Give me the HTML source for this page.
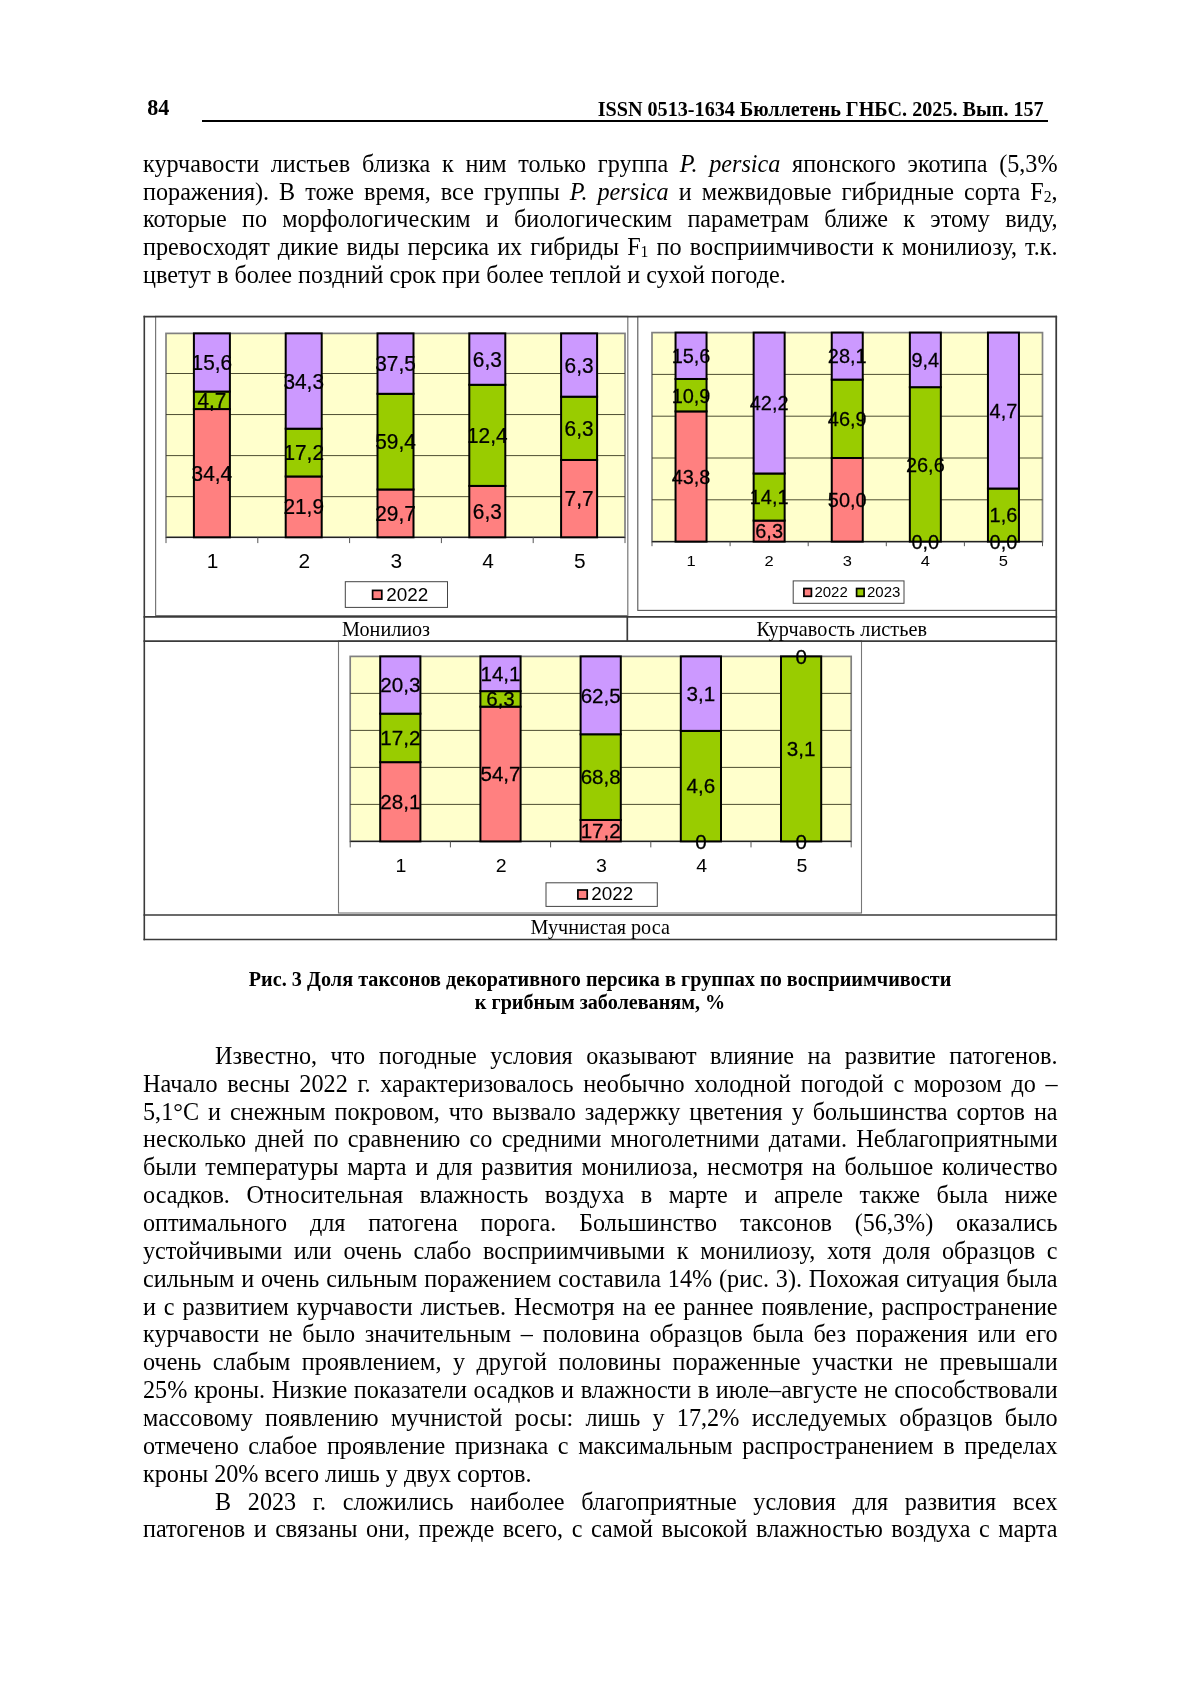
<!DOCTYPE html>
<html lang="ru"><head><meta charset="utf-8"><title>Бюллетень ГНБС. 2025. Вып. 157</title>
<style>
html,body{margin:0;padding:0;background:#fff;}
body{will-change:transform;width:1200px;height:1698px;position:relative;overflow:hidden;font-family:"Liberation Serif","Times New Roman",serif;color:#000;}
.l{position:absolute;white-space:nowrap;overflow:visible;}
.j{text-align:justify;text-align-last:justify;white-space:normal;}
.b{font-weight:bold;}
.c{text-align:center;}
sub{font-size:65%;vertical-align:baseline;position:relative;top:0.14em;line-height:0;}
svg{position:absolute;left:0;top:0;}
svg text{font-family:"Liberation Sans",Arial,sans-serif;fill:#000;}
svg text.d{stroke:#000;stroke-width:0.25px;}
svg text.s{font-family:"Liberation Serif","Times New Roman",serif;}
</style></head><body>
<div class="l b" style="top:95.84px;left:147.30px;width:252.70px;font-size:22.1px;line-height:24px;height:24px;">84</div>
<div class="l b" style="top:97.20px;left:597.70px;width:602.30px;font-size:20.16px;line-height:24px;height:24px;">ISSN 0513-1634 Бюллетень ГНБС. 2025. Вып. 157</div>
<div style="position:absolute;left:201.7px;top:120.0px;width:846.8px;height:1.7px;background:#000"></div>
<div class="l j" style="top:149.84px;left:143.00px;width:914.60px;font-size:24.19px;line-height:27.8px;height:27.8px;">курчавости листьев близка к ним только группа <i>P. persica</i> японского экотипа (5,3%</div>
<div class="l j" style="top:177.64px;left:143.00px;width:914.60px;font-size:24.19px;line-height:27.8px;height:27.8px;">поражения). В тоже время, все группы <i>P. persica</i> и межвидовые гибридные сорта F<sub>2</sub>,</div>
<div class="l j" style="top:205.44px;left:143.00px;width:914.60px;font-size:24.19px;line-height:27.8px;height:27.8px;">которые по морфологическим и биологическим параметрам ближе к этому виду,</div>
<div class="l j" style="top:233.24px;left:143.00px;width:914.60px;font-size:24.19px;line-height:27.8px;height:27.8px;">превосходят дикие виды персика их гибриды F<sub>1</sub> по восприимчивости к монилиозу, т.к.</div>
<div class="l" style="top:261.04px;left:143.00px;width:914.60px;font-size:24.19px;line-height:27.8px;height:27.8px;">цветут в более поздний срок при более теплой и сухой погоде.</div>
<div class="l b c" style="top:967.70px;left:200.00px;width:800.00px;font-size:20.16px;line-height:23.4px;height:23.4px;letter-spacing:0.045px;">Рис. 3 Доля таксонов декоративного персика в группах по восприимчивости</div>
<div class="l b c" style="top:991.00px;left:200.00px;width:800.00px;font-size:20.16px;line-height:23.4px;height:23.4px;">к грибным заболеваням, %</div>
<div class="l j" style="top:1041.84px;left:215.00px;width:842.60px;font-size:24.19px;line-height:27.8px;height:27.8px;">Известно, что погодные условия оказывают влияние на развитие патогенов.</div>
<div class="l j" style="top:1069.70px;left:143.00px;width:914.60px;font-size:24.19px;line-height:27.8px;height:27.8px;">Начало весны 2022 г. характеризовалось необычно холодной погодой с морозом до –</div>
<div class="l j" style="top:1097.56px;left:143.00px;width:914.60px;font-size:24.19px;line-height:27.8px;height:27.8px;">5,1°С и снежным покровом, что вызвало задержку цветения у большинства сортов на</div>
<div class="l j" style="top:1125.42px;left:143.00px;width:914.60px;font-size:24.19px;line-height:27.8px;height:27.8px;">несколько дней по сравнению со средними многолетними датами. Неблагоприятными</div>
<div class="l j" style="top:1153.28px;left:143.00px;width:914.60px;font-size:24.19px;line-height:27.8px;height:27.8px;">были температуры марта и для развития монилиоза, несмотря на большое количество</div>
<div class="l j" style="top:1181.14px;left:143.00px;width:914.60px;font-size:24.19px;line-height:27.8px;height:27.8px;">осадков. Относительная влажность воздуха в марте и апреле также была ниже</div>
<div class="l j" style="top:1209.00px;left:143.00px;width:914.60px;font-size:24.19px;line-height:27.8px;height:27.8px;">оптимального для патогена порога. Большинство таксонов (56,3%) оказались</div>
<div class="l j" style="top:1236.86px;left:143.00px;width:914.60px;font-size:24.19px;line-height:27.8px;height:27.8px;">устойчивыми или очень слабо восприимчивыми к монилиозу, хотя доля образцов с</div>
<div class="l j" style="top:1264.72px;left:143.00px;width:914.60px;font-size:24.19px;line-height:27.8px;height:27.8px;">сильным и очень сильным поражением составила 14% (рис. 3). Похожая ситуация была</div>
<div class="l j" style="top:1292.58px;left:143.00px;width:914.60px;font-size:24.19px;line-height:27.8px;height:27.8px;">и с развитием курчавости листьев. Несмотря на ее раннее появление, распространение</div>
<div class="l j" style="top:1320.44px;left:143.00px;width:914.60px;font-size:24.19px;line-height:27.8px;height:27.8px;">курчавости не было значительным – половина образцов была без поражения или его</div>
<div class="l j" style="top:1348.30px;left:143.00px;width:914.60px;font-size:24.19px;line-height:27.8px;height:27.8px;">очень слабым проявлением, у другой половины пораженные участки не превышали</div>
<div class="l j" style="top:1376.16px;left:143.00px;width:914.60px;font-size:24.19px;line-height:27.8px;height:27.8px;">25% кроны. Низкие показатели осадков и влажности в июле–августе не способствовали</div>
<div class="l j" style="top:1404.02px;left:143.00px;width:914.60px;font-size:24.19px;line-height:27.8px;height:27.8px;">массовому появлению мучнистой росы: лишь у 17,2% исследуемых образцов было</div>
<div class="l j" style="top:1431.88px;left:143.00px;width:914.60px;font-size:24.19px;line-height:27.8px;height:27.8px;">отмечено слабое проявление признака с максимальным распространением в пределах</div>
<div class="l" style="top:1459.74px;left:143.00px;width:914.60px;font-size:24.19px;line-height:27.8px;height:27.8px;">кроны 20% всего лишь у двух сортов.</div>
<div class="l j" style="top:1487.60px;left:215.00px;width:842.60px;font-size:24.19px;line-height:27.8px;height:27.8px;">В 2023 г. сложились наиболее благоприятные условия для развития всех</div>
<div class="l j" style="top:1515.46px;left:143.00px;width:914.60px;font-size:24.19px;line-height:27.8px;height:27.8px;">патогенов и связаны они, прежде всего, с самой высокой влажностью воздуха с марта</div>
<svg width="1200" height="1698" viewBox="0 0 1200 1698">
<rect x="155.6" y="316.4" width="472.2" height="299.2" fill="none" stroke="#777" stroke-width="1.2"/>
<rect x="637.8" y="316.4" width="418.4" height="294" fill="none" stroke="#555" stroke-width="1.1"/>
<rect x="338.5" y="641" width="523" height="272" fill="none" stroke="#777" stroke-width="1.1"/>
<rect x="166" y="333.4" width="459" height="203.9" fill="#ffffcc" stroke="#808080" stroke-width="1.7"/>
<line x1="166" y1="373.50" x2="625" y2="373.50" stroke="#3a3a20" stroke-width="0.9"/>
<line x1="166" y1="414.55" x2="625" y2="414.55" stroke="#3a3a20" stroke-width="0.9"/>
<line x1="166" y1="455.60" x2="625" y2="455.60" stroke="#3a3a20" stroke-width="0.9"/>
<line x1="166" y1="496.65" x2="625" y2="496.65" stroke="#3a3a20" stroke-width="0.9"/>
<line x1="166" y1="537.3" x2="625" y2="537.3" stroke="#222" stroke-width="1.2"/>
<line x1="166.00" y1="537.3" x2="166.00" y2="543.0999999999999" stroke="#555" stroke-width="1"/>
<line x1="257.80" y1="537.3" x2="257.80" y2="543.0999999999999" stroke="#555" stroke-width="1"/>
<line x1="349.60" y1="537.3" x2="349.60" y2="543.0999999999999" stroke="#555" stroke-width="1"/>
<line x1="441.40" y1="537.3" x2="441.40" y2="543.0999999999999" stroke="#555" stroke-width="1"/>
<line x1="533.20" y1="537.3" x2="533.20" y2="543.0999999999999" stroke="#555" stroke-width="1"/>
<line x1="625.00" y1="537.3" x2="625.00" y2="543.0999999999999" stroke="#555" stroke-width="1"/>
<rect x="193.90" y="409.07" width="36.00" height="128.23" fill="#ff8080" stroke="#000" stroke-width="2.0"/>
<rect x="193.90" y="391.55" width="36.00" height="17.52" fill="#99cc00" stroke="#000" stroke-width="2.0"/>
<rect x="193.90" y="333.40" width="36.00" height="58.15" fill="#cc99ff" stroke="#000" stroke-width="2.0"/>
<text transform="translate(212.60,567.6) scale(1.0,1)" text-anchor="middle" font-size="20.9">1</text>
<rect x="285.70" y="476.46" width="36.00" height="60.84" fill="#ff8080" stroke="#000" stroke-width="2.0"/>
<rect x="285.70" y="428.68" width="36.00" height="47.78" fill="#99cc00" stroke="#000" stroke-width="2.0"/>
<rect x="285.70" y="333.40" width="36.00" height="95.28" fill="#cc99ff" stroke="#000" stroke-width="2.0"/>
<text transform="translate(304.40,567.6) scale(1.0,1)" text-anchor="middle" font-size="20.9">2</text>
<rect x="377.50" y="489.47" width="36.00" height="47.83" fill="#ff8080" stroke="#000" stroke-width="2.0"/>
<rect x="377.50" y="393.80" width="36.00" height="95.67" fill="#99cc00" stroke="#000" stroke-width="2.0"/>
<rect x="377.50" y="333.40" width="36.00" height="60.40" fill="#cc99ff" stroke="#000" stroke-width="2.0"/>
<text transform="translate(396.20,567.6) scale(1.0,1)" text-anchor="middle" font-size="20.9">3</text>
<rect x="469.30" y="485.92" width="36.00" height="51.38" fill="#ff8080" stroke="#000" stroke-width="2.0"/>
<rect x="469.30" y="384.78" width="36.00" height="101.13" fill="#99cc00" stroke="#000" stroke-width="2.0"/>
<rect x="469.30" y="333.40" width="36.00" height="51.38" fill="#cc99ff" stroke="#000" stroke-width="2.0"/>
<text transform="translate(488.00,567.6) scale(1.0,1)" text-anchor="middle" font-size="20.9">4</text>
<rect x="561.10" y="459.96" width="36.00" height="77.34" fill="#ff8080" stroke="#000" stroke-width="2.0"/>
<rect x="561.10" y="396.68" width="36.00" height="63.28" fill="#99cc00" stroke="#000" stroke-width="2.0"/>
<rect x="561.10" y="333.40" width="36.00" height="63.28" fill="#cc99ff" stroke="#000" stroke-width="2.0"/>
<text transform="translate(579.80,567.6) scale(1.0,1)" text-anchor="middle" font-size="20.9">5</text>
<text transform="translate(211.90,480.68) scale(0.965,1)" class="d" text-anchor="middle" font-size="21.6">34,4</text>
<text transform="translate(211.90,407.81) scale(0.965,1)" class="d" text-anchor="middle" font-size="21.6">4,7</text>
<text transform="translate(211.90,369.97) scale(0.965,1)" class="d" text-anchor="middle" font-size="21.6">15,6</text>
<text transform="translate(303.70,514.38) scale(0.965,1)" class="d" text-anchor="middle" font-size="21.6">21,9</text>
<text transform="translate(303.70,460.07) scale(0.965,1)" class="d" text-anchor="middle" font-size="21.6">17,2</text>
<text transform="translate(303.70,388.54) scale(0.965,1)" class="d" text-anchor="middle" font-size="21.6">34,3</text>
<text transform="translate(395.50,520.88) scale(0.965,1)" class="d" text-anchor="middle" font-size="21.6">29,7</text>
<text transform="translate(395.50,449.13) scale(0.965,1)" class="d" text-anchor="middle" font-size="21.6">59,4</text>
<text transform="translate(395.50,371.09) scale(0.965,1)" class="d" text-anchor="middle" font-size="21.6">37,5</text>
<text transform="translate(487.30,519.10) scale(0.965,1)" class="d" text-anchor="middle" font-size="21.6">6,3</text>
<text transform="translate(487.30,442.85) scale(0.965,1)" class="d" text-anchor="middle" font-size="21.6">12,4</text>
<text transform="translate(487.30,366.59) scale(0.965,1)" class="d" text-anchor="middle" font-size="21.6">6,3</text>
<text transform="translate(579.10,506.12) scale(0.965,1)" class="d" text-anchor="middle" font-size="21.6">7,7</text>
<text transform="translate(579.10,435.81) scale(0.965,1)" class="d" text-anchor="middle" font-size="21.6">6,3</text>
<text transform="translate(579.10,372.53) scale(0.965,1)" class="d" text-anchor="middle" font-size="21.6">6,3</text>
<rect x="345.3" y="581.7" width="102.20" height="25.70" fill="#fff" stroke="#444" stroke-width="1"/>
<rect x="372.6" y="590.4" width="9.20" height="8.70" fill="#ff8080" stroke="#000" stroke-width="1.7"/>
<text transform="translate(386.2,600.7) scale(1.045,1)" font-size="18.1">2022</text>
<rect x="652" y="332.6" width="390.5" height="209.0" fill="#ffffcc" stroke="#808080" stroke-width="1.7"/>
<line x1="652" y1="374.40" x2="1042.5" y2="374.40" stroke="#3a3a20" stroke-width="0.9"/>
<line x1="652" y1="416.20" x2="1042.5" y2="416.20" stroke="#3a3a20" stroke-width="0.9"/>
<line x1="652" y1="458.00" x2="1042.5" y2="458.00" stroke="#3a3a20" stroke-width="0.9"/>
<line x1="652" y1="499.80" x2="1042.5" y2="499.80" stroke="#3a3a20" stroke-width="0.9"/>
<line x1="652" y1="541.6" x2="1042.5" y2="541.6" stroke="#222" stroke-width="1.2"/>
<line x1="652.00" y1="541.6" x2="652.00" y2="546.2" stroke="#555" stroke-width="1"/>
<line x1="730.10" y1="541.6" x2="730.10" y2="546.2" stroke="#555" stroke-width="1"/>
<line x1="808.20" y1="541.6" x2="808.20" y2="546.2" stroke="#555" stroke-width="1"/>
<line x1="886.30" y1="541.6" x2="886.30" y2="546.2" stroke="#555" stroke-width="1"/>
<line x1="964.40" y1="541.6" x2="964.40" y2="546.2" stroke="#555" stroke-width="1"/>
<line x1="1042.50" y1="541.6" x2="1042.50" y2="546.2" stroke="#555" stroke-width="1"/>
<rect x="675.55" y="411.38" width="31.00" height="130.22" fill="#ff8080" stroke="#000" stroke-width="2.0"/>
<rect x="675.55" y="378.98" width="31.00" height="32.41" fill="#99cc00" stroke="#000" stroke-width="2.0"/>
<rect x="675.55" y="332.60" width="31.00" height="46.38" fill="#cc99ff" stroke="#000" stroke-width="2.0"/>
<text transform="translate(691.05,566.4) scale(1.1,1)" text-anchor="middle" font-size="15.0">1</text>
<rect x="753.65" y="520.57" width="31.00" height="21.03" fill="#ff8080" stroke="#000" stroke-width="2.0"/>
<rect x="753.65" y="473.49" width="31.00" height="47.08" fill="#99cc00" stroke="#000" stroke-width="2.0"/>
<rect x="753.65" y="332.60" width="31.00" height="140.89" fill="#cc99ff" stroke="#000" stroke-width="2.0"/>
<text transform="translate(769.15,566.4) scale(1.1,1)" text-anchor="middle" font-size="15.0">2</text>
<rect x="831.75" y="458.00" width="31.00" height="83.60" fill="#ff8080" stroke="#000" stroke-width="2.0"/>
<rect x="831.75" y="379.58" width="31.00" height="78.42" fill="#99cc00" stroke="#000" stroke-width="2.0"/>
<rect x="831.75" y="332.60" width="31.00" height="46.98" fill="#cc99ff" stroke="#000" stroke-width="2.0"/>
<text transform="translate(847.25,566.4) scale(1.1,1)" text-anchor="middle" font-size="15.0">3</text>
<rect x="909.85" y="387.17" width="31.00" height="154.43" fill="#99cc00" stroke="#000" stroke-width="2.0"/>
<rect x="909.85" y="332.60" width="31.00" height="54.57" fill="#cc99ff" stroke="#000" stroke-width="2.0"/>
<text transform="translate(925.35,566.4) scale(1.1,1)" text-anchor="middle" font-size="15.0">4</text>
<rect x="987.95" y="488.52" width="31.00" height="53.08" fill="#99cc00" stroke="#000" stroke-width="2.0"/>
<rect x="987.95" y="332.60" width="31.00" height="155.92" fill="#cc99ff" stroke="#000" stroke-width="2.0"/>
<text transform="translate(1003.45,566.4) scale(1.1,1)" text-anchor="middle" font-size="15.0">5</text>
<text transform="translate(691.05,483.88) scale(0.95,1)" class="d" text-anchor="middle" font-size="21.0">43,8</text>
<text transform="translate(691.05,402.57) scale(0.95,1)" class="d" text-anchor="middle" font-size="21.0">10,9</text>
<text transform="translate(691.05,363.18) scale(0.95,1)" class="d" text-anchor="middle" font-size="21.0">15,6</text>
<text transform="translate(769.15,538.48) scale(0.95,1)" class="d" text-anchor="middle" font-size="21.0">6,3</text>
<text transform="translate(769.15,504.42) scale(0.95,1)" class="d" text-anchor="middle" font-size="21.0">14,1</text>
<text transform="translate(769.15,410.44) scale(0.95,1)" class="d" text-anchor="middle" font-size="21.0">42,2</text>
<text transform="translate(847.25,507.19) scale(0.95,1)" class="d" text-anchor="middle" font-size="21.0">50,0</text>
<text transform="translate(847.25,426.18) scale(0.95,1)" class="d" text-anchor="middle" font-size="21.0">46,9</text>
<text transform="translate(847.25,363.48) scale(0.95,1)" class="d" text-anchor="middle" font-size="21.0">28,1</text>
<text transform="translate(925.35,548.99) scale(0.95,1)" class="d" text-anchor="middle" font-size="21.0">0,0</text>
<text transform="translate(925.35,471.78) scale(0.95,1)" class="d" text-anchor="middle" font-size="21.0">26,6</text>
<text transform="translate(925.35,367.28) scale(0.95,1)" class="d" text-anchor="middle" font-size="21.0">9,4</text>
<text transform="translate(1003.45,548.99) scale(0.95,1)" class="d" text-anchor="middle" font-size="21.0">0,0</text>
<text transform="translate(1003.45,522.45) scale(0.95,1)" class="d" text-anchor="middle" font-size="21.0">1,6</text>
<text transform="translate(1003.45,417.95) scale(0.95,1)" class="d" text-anchor="middle" font-size="21.0">4,7</text>
<rect x="793.2" y="580.9" width="110.80" height="22.40" fill="#fff" stroke="#444" stroke-width="1"/>
<rect x="803.9" y="588.5" width="7.50" height="7.80" fill="#ff8080" stroke="#000" stroke-width="1.7"/>
<text transform="translate(814.4,597.3) scale(1.0,1)" font-size="15.0">2022</text>
<rect x="856.6" y="588.5" width="7.50" height="7.80" fill="#99cc00" stroke="#000" stroke-width="1.7"/>
<text transform="translate(867.0,597.3) scale(1.0,1)" font-size="15.0">2023</text>
<rect x="350.2" y="656.4" width="501" height="185.0" fill="#ffffcc" stroke="#808080" stroke-width="1.7"/>
<line x1="350.2" y1="693.40" x2="851.2" y2="693.40" stroke="#3a3a20" stroke-width="0.9"/>
<line x1="350.2" y1="730.40" x2="851.2" y2="730.40" stroke="#3a3a20" stroke-width="0.9"/>
<line x1="350.2" y1="767.40" x2="851.2" y2="767.40" stroke="#3a3a20" stroke-width="0.9"/>
<line x1="350.2" y1="804.40" x2="851.2" y2="804.40" stroke="#3a3a20" stroke-width="0.9"/>
<line x1="350.2" y1="841.4" x2="851.2" y2="841.4" stroke="#222" stroke-width="1.2"/>
<line x1="350.20" y1="841.4" x2="350.20" y2="847.4" stroke="#555" stroke-width="1"/>
<line x1="450.40" y1="841.4" x2="450.40" y2="847.4" stroke="#555" stroke-width="1"/>
<line x1="550.60" y1="841.4" x2="550.60" y2="847.4" stroke="#555" stroke-width="1"/>
<line x1="650.80" y1="841.4" x2="650.80" y2="847.4" stroke="#555" stroke-width="1"/>
<line x1="751.00" y1="841.4" x2="751.00" y2="847.4" stroke="#555" stroke-width="1"/>
<line x1="851.20" y1="841.4" x2="851.20" y2="847.4" stroke="#555" stroke-width="1"/>
<rect x="380.20" y="762.15" width="40.20" height="79.25" fill="#ff8080" stroke="#000" stroke-width="2.0"/>
<rect x="380.20" y="713.65" width="40.20" height="48.51" fill="#99cc00" stroke="#000" stroke-width="2.0"/>
<rect x="380.20" y="656.40" width="40.20" height="57.25" fill="#cc99ff" stroke="#000" stroke-width="2.0"/>
<text transform="translate(401.00,871.6) scale(1.05,1)" text-anchor="middle" font-size="18.6">1</text>
<rect x="480.40" y="706.65" width="40.20" height="134.75" fill="#ff8080" stroke="#000" stroke-width="2.0"/>
<rect x="480.40" y="691.13" width="40.20" height="15.52" fill="#99cc00" stroke="#000" stroke-width="2.0"/>
<rect x="480.40" y="656.40" width="40.20" height="34.73" fill="#cc99ff" stroke="#000" stroke-width="2.0"/>
<text transform="translate(501.20,871.6) scale(1.05,1)" text-anchor="middle" font-size="18.6">2</text>
<rect x="580.60" y="819.97" width="40.20" height="21.43" fill="#ff8080" stroke="#000" stroke-width="2.0"/>
<rect x="580.60" y="734.26" width="40.20" height="85.71" fill="#99cc00" stroke="#000" stroke-width="2.0"/>
<rect x="580.60" y="656.40" width="40.20" height="77.86" fill="#cc99ff" stroke="#000" stroke-width="2.0"/>
<text transform="translate(601.40,871.6) scale(1.05,1)" text-anchor="middle" font-size="18.6">3</text>
<rect x="680.80" y="730.88" width="40.20" height="110.52" fill="#99cc00" stroke="#000" stroke-width="2.0"/>
<rect x="680.80" y="656.40" width="40.20" height="74.48" fill="#cc99ff" stroke="#000" stroke-width="2.0"/>
<text transform="translate(701.60,871.6) scale(1.05,1)" text-anchor="middle" font-size="18.6">4</text>
<rect x="781.00" y="656.40" width="40.20" height="185.00" fill="#99cc00" stroke="#000" stroke-width="2.0"/>
<text transform="translate(801.80,871.6) scale(1.05,1)" text-anchor="middle" font-size="18.6">5</text>
<text transform="translate(400.30,808.98) scale(1.03,1)" class="d" text-anchor="middle" font-size="20.0">28,1</text>
<text transform="translate(400.30,745.10) scale(1.03,1)" class="d" text-anchor="middle" font-size="20.0">17,2</text>
<text transform="translate(400.30,692.22) scale(1.03,1)" class="d" text-anchor="middle" font-size="20.0">20,3</text>
<text transform="translate(500.50,781.23) scale(1.03,1)" class="d" text-anchor="middle" font-size="20.0">54,7</text>
<text transform="translate(500.50,706.09) scale(1.03,1)" class="d" text-anchor="middle" font-size="20.0">6,3</text>
<text transform="translate(500.50,680.97) scale(1.03,1)" class="d" text-anchor="middle" font-size="20.0">14,1</text>
<text transform="translate(600.70,837.89) scale(1.03,1)" class="d" text-anchor="middle" font-size="20.0">17,2</text>
<text transform="translate(600.70,784.32) scale(1.03,1)" class="d" text-anchor="middle" font-size="20.0">68,8</text>
<text transform="translate(600.70,702.53) scale(1.03,1)" class="d" text-anchor="middle" font-size="20.0">62,5</text>
<text transform="translate(700.90,848.60) scale(1.03,1)" class="d" text-anchor="middle" font-size="20.0">0</text>
<text transform="translate(700.90,793.34) scale(1.03,1)" class="d" text-anchor="middle" font-size="20.0">4,6</text>
<text transform="translate(700.90,700.84) scale(1.03,1)" class="d" text-anchor="middle" font-size="20.0">3,1</text>
<text transform="translate(801.10,848.60) scale(1.03,1)" class="d" text-anchor="middle" font-size="20.0">0</text>
<text transform="translate(801.10,756.10) scale(1.03,1)" class="d" text-anchor="middle" font-size="20.0">3,1</text>
<text transform="translate(801.10,663.60) scale(1.03,1)" class="d" text-anchor="middle" font-size="20.0">0</text>
<rect x="546" y="882.8" width="111.30" height="23.60" fill="#fff" stroke="#444" stroke-width="1"/>
<rect x="577.9" y="890.0" width="9.30" height="8.90" fill="#ff8080" stroke="#000" stroke-width="1.7"/>
<text transform="translate(591.3,900.2) scale(1.044,1)" font-size="18.1">2022</text>
<line x1="144.3" y1="315.8" x2="144.3" y2="940.3" stroke="#3a3a3a" stroke-width="1.6"/>
<line x1="1056.3" y1="315.8" x2="1056.3" y2="940.3" stroke="#3a3a3a" stroke-width="1.6"/>
<line x1="143.5" y1="316.6" x2="1057.1" y2="316.6" stroke="#3a3a3a" stroke-width="1.7"/>
<line x1="143.5" y1="616.9" x2="1057.1" y2="616.9" stroke="#3a3a3a" stroke-width="1.7"/>
<line x1="143.5" y1="641.2" x2="1057.1" y2="641.2" stroke="#3a3a3a" stroke-width="1.7"/>
<line x1="143.5" y1="915.0" x2="1057.1" y2="915.0" stroke="#3a3a3a" stroke-width="1.7"/>
<line x1="143.5" y1="939.5" x2="1057.1" y2="939.5" stroke="#3a3a3a" stroke-width="1.7"/>
<line x1="627.3" y1="616.9" x2="627.3" y2="641.2" stroke="#3a3a3a" stroke-width="1.7"/>
<text class="s" x="386.1" y="635.7" text-anchor="middle" font-size="20.16">Монилиоз</text>
<text class="s" x="841.9" y="635.9" text-anchor="middle" font-size="20.16" letter-spacing="0.1">Курчавость листьев</text>
<text class="s" x="600.2" y="934.2" text-anchor="middle" font-size="20.16">Мучнистая роса</text>
</svg>
</body></html>
